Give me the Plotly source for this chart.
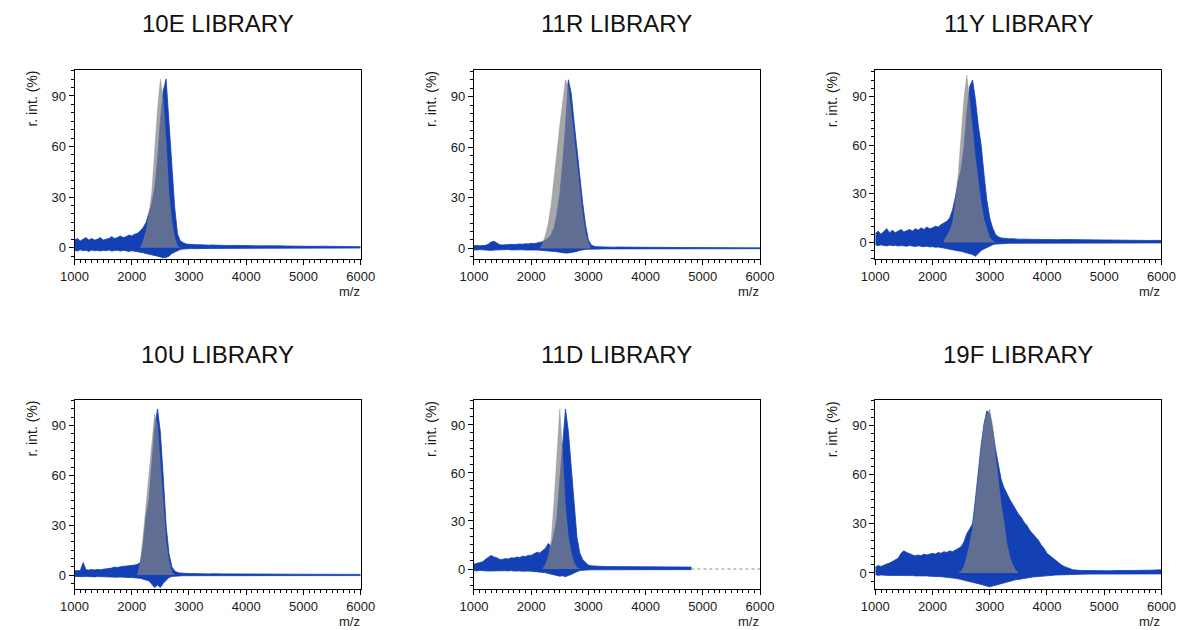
import plotly.graph_objects as go

# ---------------- DATA ----------------
TITLES = ["10E LIBRARY", "11R LIBRARY", "11Y LIBRARY", "10U LIBRARY", "11D LIBRARY", "19F LIBRARY"]
X_TICKS = [1000, 2000, 3000, 4000, 5000, 6000]
Y_TICKS = [0, 30, 60, 90]

MZ_A = [1000, 1050, 1100, 1150, 1200, 1250, 1300, 1350, 1400, 1450,
        1500, 1550, 1600, 1650, 1700, 1750, 1800, 1850, 1900, 1950,
        2000, 2050, 2100, 2150, 2200, 2250, 2300, 2350, 2400, 2450,
        2500, 2550, 2600, 2650, 2700, 2750, 2800, 2850, 2900, 2950,
        3000, 3050, 3100, 3150, 3200, 3250, 3300, 3350, 3400, 3450, 3500,
        3600, 3700, 3800, 3900, 4000, 4100, 4200, 4300, 4400, 4500,
        4600, 4700, 4800, 4900, 5000, 5100, 5200, 5300, 5400, 5500,
        5600, 5700, 5800, 5900, 6000]

MZ_B = [1000, 1050, 1100, 1150, 1200, 1250, 1300, 1350, 1400, 1450,
        1500, 1550, 1600, 1650, 1700, 1750, 1800, 1850, 1900, 1950,
        2000, 2050, 2100, 2150, 2200, 2250, 2300, 2350, 2400, 2450,
        2500, 2550, 2600, 2650, 2700, 2750, 2800, 2850, 2900, 2950,
        3000, 3050, 3100, 3150, 3200, 3250, 3300, 3350, 3400, 3450, 3500,
        3600, 3700, 3800, 3900, 4000, 4100, 4200, 4300, 4400, 4500,
        4600, 4700, 4800]

MZ_C = [1000, 1050, 1100, 1150, 1200, 1250, 1300, 1350, 1400, 1450,
        1500, 1550, 1600, 1650, 1700, 1750, 1800, 1850, 1900, 1950,
        2000, 2050, 2100, 2150, 2200, 2250, 2300, 2350, 2400, 2450,
        2500, 2550, 2600, 2650, 2700, 2750, 2800, 2850, 2900, 2950,
        3000, 3050, 3100, 3150, 3200, 3250, 3300, 3350, 3400, 3450,
        3500, 3550, 3600, 3650, 3700, 3750, 3800, 3850, 3900, 3950,
        4000, 4050, 4100, 4150, 4200, 4250, 4300, 4350, 4400, 4450,
        4500, 4550, 4600,
        4700, 4800, 4900, 5000, 5100, 5200, 5300, 5400, 5500, 5600,
        5700, 5800, 5900, 6000]

# ---- 10E ----
P1_BLUE_HI = [4.5, 5.5, 4.0, 5.0, 6.0, 4.5, 5.5, 4.5, 5.0, 6.0,
              4.5, 5.0, 5.5, 6.5, 5.5, 6.0, 7.0, 6.0, 6.5, 7.5,
              7.0, 8.0, 8.5, 10.0, 12.0, 15.0, 20.0, 26.0, 35.0, 52.0,
              75.0, 93.0, 100.0, 76.0, 50.0, 24.0, 8.0, 4.0, 3.0, 2.2,
              2.0, 1.8, 2.0, 1.7, 1.8, 1.6, 1.7, 1.5, 1.6, 1.5, 1.4,
              1.5, 1.3, 1.4, 1.2, 1.3, 1.2, 1.1, 1.2, 1.1, 1.0,
              1.1, 1.0, 0.9, 1.0, 0.9, 0.9, 0.8, 0.9, 0.8, 0.8,
              0.7, 0.8, 0.7, 0.7, 0.6]
P1_BLUE_LO = [-1.5, -2.0, -1.2, -1.8, -1.5, -2.2, -1.4, -1.8, -1.6, -2.0,
              -1.5, -1.8, -1.3, -2.0, -1.7, -1.5, -2.0, -1.6, -1.8, -2.2,
              -1.8, -2.0, -2.3, -2.5, -3.0, -3.5, -3.8, -4.2, -4.5, -5.0,
              -5.5, -6.0, -5.8, -5.0, -3.5, -2.5, -1.5, -1.0, -0.8, -0.6,
              -0.6, -0.5, -0.6, -0.5, -0.5, -0.4, -0.5, -0.4, -0.4, -0.4, -0.4,
              -0.4, -0.4, -0.3, -0.4, -0.3, -0.3, -0.3, -0.3, -0.3, -0.3,
              -0.3, -0.3, -0.3, -0.3, -0.3, -0.2, -0.3, -0.2, -0.2, -0.3,
              -0.2, -0.2, -0.2, -0.2, -0.2]
P1_GRAY_MZ = [2150, 2200, 2250, 2300, 2350, 2400, 2450, 2500, 2550, 2600, 2650, 2700, 2750, 2800, 2850]
P1_GRAY = [0, 4, 10, 20, 33, 58, 82, 100, 88, 63, 32, 16, 6, 1, 0]

# ---- 11R ----
P2_BLUE_HI = [1.5, 1.8, 1.5, 1.6, 1.8, 2.5, 3.8, 4.2, 3.2, 2.2,
              2.0, 2.2, 2.0, 2.4, 2.3, 2.5, 2.6, 2.4, 2.8, 2.6,
              3.0, 2.8, 3.2, 3.4, 4.0, 5.0, 6.0, 8.0, 12.0, 20.0,
              32.0, 50.0, 72.0, 100.0, 92.0, 75.0, 58.0, 42.0, 27.0, 14.0,
              5.0, 2.0, 1.2, 1.0, 0.9, 0.8, 0.9, 0.8, 0.8, 0.7, 0.8,
              0.7, 0.7, 0.6, 0.7, 0.6, 0.6, 0.6, 0.5, 0.6, 0.5,
              0.5, 0.5, 0.5, 0.5, 0.4, 0.5, 0.4, 0.4, 0.4, 0.4,
              0.4, 0.3, 0.4, 0.3, 0.3]
P2_BLUE_LO = [-0.8, -1.0, -0.7, -0.9, -0.8, -1.0, -1.2, -1.0, -0.9, -0.8,
              -0.8, -1.0, -0.7, -0.9, -0.8, -1.0, -0.9, -0.8, -1.0, -0.9,
              -0.9, -1.0, -1.0, -1.1, -1.2, -1.3, -1.5, -1.6, -1.8, -2.0,
              -2.3, -2.6, -2.8, -2.7, -2.5, -2.2, -1.8, -1.2, -0.8, -0.6,
              -0.5, -0.4, -0.4, -0.3, -0.3, -0.3, -0.3, -0.3, -0.3, -0.3, -0.3,
              -0.3, -0.3, -0.2, -0.3, -0.2, -0.2, -0.3, -0.2, -0.2, -0.2,
              -0.2, -0.2, -0.2, -0.2, -0.2, -0.2, -0.2, -0.2, -0.2, -0.2,
              -0.2, -0.2, -0.2, -0.2, -0.2]
P2_GRAY_MZ = [2150, 2200, 2250, 2300, 2350, 2400, 2450, 2500, 2550, 2600,
              2650, 2700, 2750, 2800, 2850, 2900, 2950, 3000, 3050]
P2_GRAY = [0, 3, 8, 15, 26, 40, 57, 73, 88, 100, 96, 82, 66, 50, 34, 20, 9, 3, 0]

# ---- 11Y ----
P3_BLUE_HI = [5.5, 7.0, 5.0, 6.5, 8.5, 6.0, 7.5, 6.0, 7.0, 8.0,
              6.5, 7.5, 8.0, 7.0, 8.5, 7.5, 9.0, 8.0, 9.5, 8.5,
              9.0, 10.0, 9.5, 11.0, 12.0, 13.0, 15.0, 20.0, 28.0, 38.0,
              45.0, 58.0, 80.0, 96.0, 100.0, 88.0, 72.0, 60.0, 42.0, 26.0,
              15.0, 9.0, 5.0, 3.5, 2.8, 2.5, 2.4, 2.2, 2.3, 2.1, 2.0,
              2.0, 1.9, 2.0, 1.8, 1.9, 1.8, 1.7, 1.8, 1.7, 1.6,
              1.7, 1.6, 1.5, 1.6, 1.5, 1.5, 1.4, 1.5, 1.4, 1.3,
              1.4, 1.3, 1.2, 1.3, 1.2]
P3_BLUE_LO = [-1.5, -2.0, -1.5, -1.8, -2.2, -1.6, -2.0, -1.8, -2.2, -1.9,
              -2.0, -2.3, -1.9, -2.2, -2.5, -2.1, -2.4, -2.6, -2.3, -2.8,
              -2.6, -3.0, -2.8, -3.2, -3.5, -3.8, -4.0, -4.5, -5.0, -5.2,
              -5.5, -6.0, -6.5, -7.0, -7.5, -8.5, -6.5, -5.0, -4.0, -3.0,
              -2.0, -1.5, -1.0, -0.8, -0.7, -0.6, -0.6, -0.5, -0.5, -0.5, -0.5,
              -0.5, -0.5, -0.4, -0.5, -0.4, -0.4, -0.4, -0.4, -0.4, -0.4,
              -0.4, -0.3, -0.4, -0.3, -0.3, -0.3, -0.3, -0.3, -0.3, -0.3,
              -0.3, -0.3, -0.3, -0.3, -0.3]
P3_GRAY_MZ = [2200, 2250, 2300, 2350, 2400, 2450, 2500, 2550, 2600, 2650,
              2700, 2750, 2800, 2850, 2900, 2950, 3000, 3050, 3100]
P3_GRAY = [1, 4, 7, 12, 25, 42, 65, 89, 103, 88, 70, 52, 36, 24, 14, 8, 3, 1, 0]

# ---- 10U ----
P4_BLUE_HI = [2.5, 2.8, 2.6, 7.5, 3.2, 3.0, 3.3, 3.1, 3.4, 3.2,
              3.5, 3.6, 3.8, 4.2, 4.8, 4.5, 5.0, 5.2, 5.0, 5.6,
              5.5, 6.0, 6.5, 7.5, 18.0, 35.0, 45.0, 65.0, 88.0, 100.0,
              86.0, 59.0, 30.0, 13.0, 5.0, 2.5, 1.5, 1.2, 1.0, 1.0,
              0.9, 0.9, 0.8, 0.9, 0.8, 0.8, 0.8, 0.7, 0.8, 0.7, 0.7,
              0.7, 0.7, 0.6, 0.7, 0.6, 0.6, 0.6, 0.6, 0.5, 0.6,
              0.5, 0.5, 0.5, 0.5, 0.5, 0.4, 0.5, 0.4, 0.4, 0.4,
              0.4, 0.4, 0.4, 0.4, 0.4]
P4_BLUE_LO = [-0.8, -1.0, -0.9, -1.0, -0.8, -1.0, -0.9, -1.1, -0.9, -1.0,
              -1.0, -1.1, -1.0, -1.2, -1.1, -1.3, -1.2, -1.4, -1.3, -1.5,
              -1.5, -1.6, -1.8, -2.0, -2.5, -3.0, -3.5, -5.5, -7.5, -6.0,
              -7.5, -5.0, -3.0, -1.5, -0.8, -0.6, -0.5, -0.5, -0.4, -0.4,
              -0.4, -0.4, -0.4, -0.4, -0.4, -0.4, -0.4, -0.4, -0.4, -0.4, -0.4,
              -0.3, -0.3, -0.3, -0.3, -0.3, -0.3, -0.3, -0.3, -0.3, -0.3,
              -0.3, -0.3, -0.3, -0.3, -0.3, -0.3, -0.3, -0.3, -0.3, -0.3,
              -0.3, -0.3, -0.3, -0.3, -0.3]
P4_GRAY_MZ = [2100, 2150, 2200, 2250, 2300, 2350, 2400, 2450, 2500, 2550, 2600, 2650, 2700, 2750]
P4_GRAY = [0, 8, 24, 42, 60, 80, 97, 90, 65, 42, 20, 8, 2, 0]

# ---- 11D ----
P5_BLUE_HI = [3.0, 3.5, 4.0, 4.5, 6.0, 7.0, 8.5, 7.5, 7.0, 6.0,
              6.0, 6.5, 6.2, 7.0, 6.8, 7.5, 7.2, 8.0, 7.8, 8.5,
              8.5, 9.5, 10.5, 10.0, 11.5, 13.0, 16.0, 14.0, 22.0, 32.0,
              55.0, 80.0, 100.0, 86.0, 63.0, 38.0, 20.0, 10.0, 6.0, 4.0,
              2.5, 2.0, 1.8, 1.7, 1.6, 1.6, 1.5, 1.5, 1.6, 1.5, 1.5,
              1.5, 1.4, 1.5, 1.4, 1.4, 1.3, 1.4, 1.3, 1.3, 1.2,
              1.3, 1.2, 1.2]
P5_BLUE_LO = [-1.0, -1.2, -0.9, -1.1, -1.0, -1.3, -1.2, -1.1, -1.0, -1.2,
              -1.0, -1.1, -1.2, -1.0, -1.3, -1.1, -1.2, -1.4, -1.2, -1.3,
              -1.4, -1.5, -1.6, -1.8, -2.0, -2.3, -2.8, -3.2, -3.6, -4.0,
              -4.5, -4.2, -4.8, -4.0, -3.5, -2.5, -1.6, -1.0, -0.8, -0.6,
              -0.5, -0.5, -0.5, -0.5, -0.5, -0.5, -0.5, -0.5, -0.5, -0.5, -0.5,
              -0.4, -0.4, -0.4, -0.4, -0.4, -0.4, -0.4, -0.4, -0.4, -0.4,
              -0.4, -0.4, -0.4]
P5_GRAY_MZ = [2200, 2250, 2300, 2350, 2400, 2450, 2500, 2550, 2600, 2650, 2700, 2750, 2800, 2850]
P5_GRAY = [0, 3, 8, 18, 42, 75, 100, 72, 38, 20, 10, 4, 1, 0]
P5_BASELINE_MZ = [4800, 6000]
P5_BASELINE_Y = [0, 0]

# ---- 19F ----
P6_BLUE_HI = [3.5, 4.5, 4.0, 5.0, 5.5, 6.0, 7.0, 7.5, 9.0, 12.0,
              13.5, 12.5, 11.5, 11.0, 10.5, 11.0, 10.5, 11.5, 11.0, 11.5,
              12.0, 11.5, 12.5, 12.0, 13.0, 12.5, 13.5, 13.0, 14.0, 15.0,
              16.0, 19.0, 24.0, 27.0, 30.0, 45.0, 62.0, 78.0, 91.0, 99.0,
              97.0, 88.0, 76.0, 66.0, 57.0, 52.0, 48.0, 45.0, 42.0, 39.0,
              36.0, 34.0, 31.0, 29.0, 26.0, 24.0, 22.0, 20.0, 17.0, 15.0,
              12.0, 10.5, 9.0, 7.5, 6.0, 5.0, 4.0, 3.2, 2.5, 2.0,
              1.8, 1.6, 1.5,
              1.5, 1.4, 1.5, 1.4, 1.3, 1.5, 1.4, 1.3, 1.5, 1.6,
              1.5, 1.7, 1.8, 2.0]
P6_BLUE_LO = [-1.0, -1.5, -1.2, -1.4, -1.3, -1.6, -1.5, -1.4, -1.6, -1.5,
              -1.6, -1.5, -1.7, -1.6, -1.8, -1.7, -1.8, -1.9, -1.8, -2.0,
              -2.0, -2.1, -2.2, -2.3, -2.5, -2.6, -2.8, -3.0, -3.3, -3.6,
              -4.0, -4.3, -4.6, -5.0, -5.5, -6.0, -6.5, -7.0, -7.5, -8.0,
              -8.5, -8.0, -7.5, -7.0, -6.5, -6.0, -5.5, -5.0, -4.5, -4.2,
              -4.0, -3.6, -3.3, -3.0, -2.8, -2.5, -2.3, -2.1, -2.0, -1.8,
              -1.6, -1.5, -1.4, -1.3, -1.2, -1.1, -1.0, -1.0, -0.9, -0.9,
              -0.8, -0.8, -0.8,
              -0.7, -0.7, -0.7, -0.7, -0.7, -0.6, -0.7, -0.6, -0.6, -0.6,
              -0.6, -0.6, -0.6, -0.6]
P6_GRAY_MZ = [2450, 2500, 2550, 2600, 2650, 2700, 2750, 2800, 2850, 2900, 2950,
              3000, 3050, 3100, 3150, 3200, 3250, 3300, 3350, 3400, 3450, 3500]
P6_GRAY = [0, 1, 4, 10, 18, 27, 42, 60, 75, 90, 97, 100, 90, 72, 56, 42, 31, 18, 10, 5, 2, 0]

PANELS = [
    (MZ_A, P1_BLUE_HI, P1_BLUE_LO, P1_GRAY_MZ, P1_GRAY),
    (MZ_A, P2_BLUE_HI, P2_BLUE_LO, P2_GRAY_MZ, P2_GRAY),
    (MZ_A, P3_BLUE_HI, P3_BLUE_LO, P3_GRAY_MZ, P3_GRAY),
    (MZ_A, P4_BLUE_HI, P4_BLUE_LO, P4_GRAY_MZ, P4_GRAY),
    (MZ_B, P5_BLUE_HI, P5_BLUE_LO, P5_GRAY_MZ, P5_GRAY),
    (MZ_C, P6_BLUE_HI, P6_BLUE_LO, P6_GRAY_MZ, P6_GRAY),
]
Y_RANGES = [[-6.7, 105.4], [-6.3, 105.8], [-10.2, 106.2],
            [-8.4, 105.4], [-12.5, 105.6], [-9.8, 105.6]]

# ---------------- STYLE / LAYOUT ----------------
W, H = 1192, 630
BLUE = "rgb(20,64,182)"
GRAY = "rgba(128,130,134,0.70)"
FONT = "Liberation Sans, Arial, sans-serif"

COLS_PX = [(62, 355), (471, 764), (882, 1175)]
ROWS_PX = [(70, 259), (400, 589)]
MZ_LABEL_OFFSET = 32

fig = go.Figure()
layout = {}
annotations = []

for i, (mz, hi, lo, gmz, gy) in enumerate(PANELS):
    n = i + 1
    r, c = divmod(i, 3)
    x0, x1 = COLS_PX[c]
    yt, yb = ROWS_PX[r]
    xa, ya = f"x{n}", f"y{n}"

    fig.add_trace(go.Scatter(x=mz, y=lo, xaxis=xa, yaxis=ya, mode="lines",
                             line=dict(color=BLUE, width=0.8), hoverinfo="skip"))
    fig.add_trace(go.Scatter(x=mz, y=hi, xaxis=xa, yaxis=ya, mode="lines",
                             line=dict(color=BLUE, width=0.8), fill="tonexty",
                             fillcolor=BLUE, hoverinfo="skip"))
    fig.add_trace(go.Scatter(x=gmz, y=gy, xaxis=xa, yaxis=ya, mode="lines",
                             line=dict(color=GRAY, width=0.5), fill="tozeroy",
                             fillcolor=GRAY, hoverinfo="skip"))
    if n == 5:
        fig.add_trace(go.Scatter(x=P5_BASELINE_MZ, y=P5_BASELINE_Y, xaxis=xa, yaxis=ya,
                                 mode="lines", line=dict(color="#8a8a8a", width=1, dash="dot"),
                                 hoverinfo="skip"))

    axis_common = dict(showline=True, linecolor="black", linewidth=1, mirror=True,
                       ticks="outside", ticklen=5, tickwidth=1, tickcolor="black",
                       showgrid=False, zeroline=False,
                       tickfont=dict(family=FONT, size=13, color="#1a1a1a"))
    layout[f"xaxis{n}"] = dict(axis_common, domain=[x0 / W, x1 / W], anchor=ya,
                               range=[1000, 6000], tickvals=X_TICKS,
                               minor=dict(dtick=100, tick0=1000, ticklen=3, ticks="outside",
                                          tickcolor="black", tickwidth=1, showgrid=False))
    layout[f"yaxis{n}"] = dict(axis_common, domain=[1 - yb / H, 1 - yt / H], anchor=xa,
                               range=Y_RANGES[i], tickvals=Y_TICKS,
                               minor=dict(dtick=5, tick0=0, ticklen=3, ticks="outside",
                                          tickcolor="black", tickwidth=1, showgrid=False))

    cx = (x0 + x1) / 2
    annotations.append(dict(text=TITLES[i], x=cx / W, y=1 - (yt - 46) / H, xref="paper", yref="paper",
                            xanchor="center", yanchor="middle", showarrow=False,
                            font=dict(family=FONT, size=24, color="#111")))
    annotations.append(dict(text="r. int. (%)", x=(x0 - 44) / W, y=1 - (yt + 29) / H,
                            xref="paper", yref="paper", xanchor="center", yanchor="middle",
                            textangle=-90, showarrow=False,
                            font=dict(family=FONT, size=14, color="#1a1a1a")))
    annotations.append(dict(text="m/z", x=(x1 + 1) / W, y=1 - (yb + MZ_LABEL_OFFSET) / H,
                            xref="paper", yref="paper",
                            xanchor="right", yanchor="middle", showarrow=False,
                            font=dict(family=FONT, size=13, color="#1a1a1a")))

fig.update_layout(width=W, height=H, margin=dict(l=0, r=0, t=0, b=0),
                  paper_bgcolor="white", plot_bgcolor="white", showlegend=False,
                  font=dict(family=FONT), annotations=annotations, **layout)

fig.write_html("out.html")
